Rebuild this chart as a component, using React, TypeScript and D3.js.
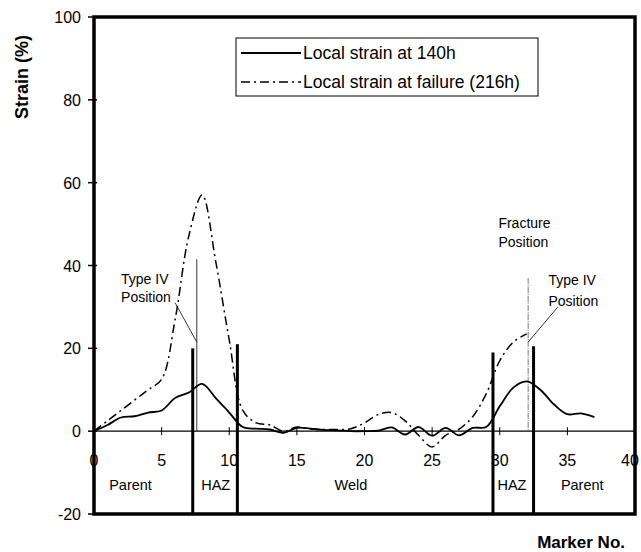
import React, { useEffect, useRef } from "react";
import * as d3 from "d3";

// marker positions along the specimen
const markerNo = [
  0, 1, 2, 3, 4, 5, 6, 7, 8, 9, 10, 11, 12, 13, 14, 15, 16, 17, 18, 19, 20,
  21, 22, 23, 24, 25, 26, 27, 28, 29, 30, 31, 32, 33, 34, 35, 36, 37,
];
// local strain (%) at 140h
const strain140h = [
  0, 1.5, 3.3, 3.6, 4.5, 5, 8, 9.3, 11.4, 8, 4.5, 1, 0.6, 0.4, -0.4, 0.8,
  0.6, 0.3, 0.2, 0, 0, 0.1, 0.9, -0.8, 1, -1.1, 0.8, -1, 0.8, 1, 6, 10.5, 12,
  10, 6.5, 4.1, 4.3, 3.4,
];
// local strain (%) at failure (216h), markers 0..32
const strainFailure = [
  0, 2.5, 5, 7.5, 10, 12.5, 27, 47, 57, 41, 22, 5, 2, 1.5, 0, 1, 0.5, 0.4,
  0.4, 0.6, 2, 4, 4.5, 2.5, -1, -3.8, -1, 0.5, 3.5, 9, 17, 21.5, 23.5,
];

const xTicks = [0, 5, 10, 15, 20, 25, 30, 35, 40];
const yTicks = [-20, 0, 20, 40, 60, 80, 100];

// zone boundaries (thick lines) and labels
const boundaryMarkers = [7.3, 10.6, 29.5, 32.5];
const boundaryTops = [20, 21, 19, 20.5];
const zoneNames = ["Parent", "HAZ", "Weld", "HAZ", "Parent"];
const zoneCenters = [2.7, 9.0, 19.0, 30.9, 36.1];

const legendLabels = [
  "Local strain at 140h",
  "Local strain at failure (216h)",
];

const FONT = "'Liberation Sans', Arial, sans-serif";

const App = () => {
  const svgRef = useRef(null);

  useEffect(() => {
    const svg = d3.select(svgRef.current);
    svg.selectAll("*").remove();

    const x = d3.scaleLinear().domain([0, 40]).range([94, 635]);
    const y = d3.scaleLinear().domain([-20, 100]).range([514, 17]);

    const g = svg.append("g").attr("font-family", FONT);

    // zero line
    g.append("line")
      .attr("x1", x(0))
      .attr("x2", x(40))
      .attr("y1", y(0))
      .attr("y2", y(0))
      .attr("stroke", "#000")
      .attr("stroke-width", 1.2);

    // x ticks (crossing zero line)
    g.selectAll(".xt")
      .data(xTicks.slice(1, -1))
      .join("line")
      .attr("x1", (d) => x(d))
      .attr("x2", (d) => x(d))
      .attr("y1", y(0) - 4)
      .attr("y2", y(0) + 4)
      .attr("stroke", "#000")
      .attr("stroke-width", 1);

    // last label pulled in so it stays inside the picture
    g.selectAll(".xl")
      .data(xTicks)
      .join("text")
      .attr("x", (d) => (d === 40 ? x(d) - 5 : x(d)))
      .attr("y", y(0) + 35)
      .attr("text-anchor", "middle")
      .attr("font-size", 16)
      .text((d) => d);

    // y ticks
    g.selectAll(".yt")
      .data(yTicks)
      .join("line")
      .attr("x1", x(0) - 6)
      .attr("x2", x(0) + 3)
      .attr("y1", (d) => y(d))
      .attr("y2", (d) => y(d))
      .attr("stroke", "#000")
      .attr("stroke-width", 1.5);

    g.selectAll(".yl")
      .data(yTicks)
      .join("text")
      .attr("x", x(0) - 13)
      .attr("y", (d) => y(d) + 6)
      .attr("text-anchor", "end")
      .attr("font-size", 16)
      .text((d) => d);

    // axis titles
    g.append("text")
      .attr("transform", "translate(28,77) rotate(-90)")
      .attr("text-anchor", "middle")
      .attr("font-size", 18)
      .attr("font-weight", "bold")
      .text("Strain (%)");

    g.append("text")
      .attr("x", 625)
      .attr("y", 548)
      .attr("text-anchor", "end")
      .attr("font-size", 17)
      .attr("font-weight", "bold")
      .text("Marker No.");

    // thin position lines
    g.append("line")
      .attr("x1", x(7.6))
      .attr("x2", x(7.6))
      .attr("y1", y(41.5))
      .attr("y2", y(0))
      .attr("stroke", "#000")
      .attr("stroke-width", 0.8);
    g.append("line")
      .attr("x1", x(32.1))
      .attr("x2", x(32.1))
      .attr("y1", y(37))
      .attr("y2", y(0))
      .attr("stroke", "#555")
      .attr("stroke-width", 0.8)
      .attr("stroke-dasharray", "6,1,1,1");

    // leader lines
    g.append("line")
      .attr("x1", x(6.0))
      .attr("y1", y(31))
      .attr("x2", x(7.6))
      .attr("y2", y(21.5))
      .attr("stroke", "#000")
      .attr("stroke-width", 0.8);
    g.append("line")
      .attr("x1", x(34.3))
      .attr("y1", y(30))
      .attr("x2", x(32.1))
      .attr("y2", y(21.5))
      .attr("stroke", "#000")
      .attr("stroke-width", 0.8);

    // annotation texts
    const notes = [
      { m: 2.0, v: 35.5, t: "Type IV" },
      { m: 2.0, v: 31.2, t: "Position" },
      { m: 29.9, v: 49, t: "Fracture" },
      { m: 29.9, v: 44.4, t: "Position" },
      { m: 33.6, v: 35.3, t: "Type IV" },
      { m: 33.6, v: 30.3, t: "Position" },
    ];
    g.selectAll(".note")
      .data(notes)
      .join("text")
      .attr("x", (d) => x(d.m))
      .attr("y", (d) => y(d.v))
      .attr("font-size", 14)
      .text((d) => d.t);

    // curves
    const line = d3
      .line()
      .x((d) => x(d[0]))
      .y((d) => y(d[1]))
      .curve(d3.curveCatmullRom.alpha(0.5));

    g.append("path")
      .datum(strainFailure.map((v, i) => [markerNo[i], v]))
      .attr("d", line)
      .attr("fill", "none")
      .attr("stroke", "#000")
      .attr("stroke-width", 1.5)
      .attr("stroke-dasharray", "9,4,2,4");

    g.append("path")
      .datum(strain140h.map((v, i) => [markerNo[i], v]))
      .attr("d", line)
      .attr("fill", "none")
      .attr("stroke", "#000")
      .attr("stroke-width", 1.8);

    // zone boundaries
    g.selectAll(".zb")
      .data(boundaryMarkers)
      .join("line")
      .attr("x1", (d) => x(d))
      .attr("x2", (d) => x(d))
      .attr("y1", (d, i) => y(boundaryTops[i]))
      .attr("y2", y(-20))
      .attr("stroke", "#000")
      .attr("stroke-width", 3);

    g.selectAll(".zn")
      .data(zoneNames)
      .join("text")
      .attr("x", (d, i) => x(zoneCenters[i]))
      .attr("y", y(-14.3))
      .attr("text-anchor", "middle")
      .attr("font-size", 14.5)
      .text((d) => d);

    // legend
    const lg = g.append("g");
    lg.append("rect")
      .attr("x", 236)
      .attr("y", 38)
      .attr("width", 302)
      .attr("height", 58)
      .attr("fill", "#fff")
      .attr("stroke", "#000")
      .attr("stroke-width", 1);
    lg.selectAll(".ll")
      .data(legendLabels)
      .join("line")
      .attr("x1", 241)
      .attr("x2", 301)
      .attr("y1", (d, i) => 53 + i * 29)
      .attr("y2", (d, i) => 53 + i * 29)
      .attr("stroke", "#000")
      .attr("stroke-width", (d, i) => (i === 0 ? 1.8 : 1.5))
      .attr("stroke-dasharray", (d, i) => (i === 0 ? null : "9,4,2,4"));
    lg.selectAll(".lt")
      .data(legendLabels)
      .join("text")
      .attr("x", 303)
      .attr("y", (d, i) => 59 + i * 29)
      .attr("font-size", 17.5)
      .text((d) => d);

    // plot frame
    g.append("rect")
      .attr("x", x(0))
      .attr("y", y(100))
      .attr("width", x(40) - x(0))
      .attr("height", y(-20) - y(100))
      .attr("fill", "none")
      .attr("stroke", "#000")
      .attr("stroke-width", 3.5);
  }, []);

  return (
    <svg
      ref={svgRef}
      width={641}
      height={552}
      style={{ position: "absolute", left: 0, top: 0, background: "#fff" }}
    />
  );
};

export default App;
